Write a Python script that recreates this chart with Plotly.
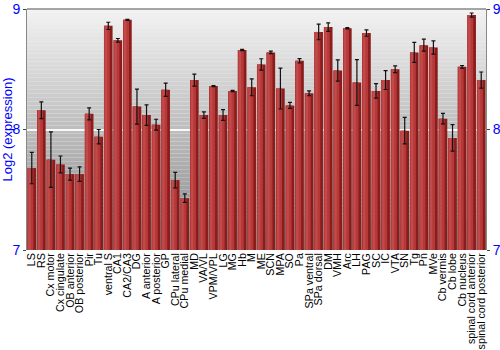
import plotly.graph_objects as go

regions = ["LS", "RS", "Cx motor", "Cx cingulate", "OB anterior", "OB posterior", "Pir", "Tu",
           "ventral S", "CA1", "CA2/CA3", "DG", "A anterior", "A posterior", "GP",
           "CPu lateral", "CPu medial", "MD", "VA/VL", "VPM/VPL", "LG", "MG", "Hb", "M", "ME",
           "SCN", "MPA", "SO", "Pa", "SPa ventral", "SPa dorsal", "DM",
           "VMH", "Arc", "LH", "PAG", "SC", "IC", "VTA", "SN", "Tg", "Pn", "MVe",
           "Cb vermis", "Cb lobe", "Cb nucleus", "spinal cord anterior", "spinal cord posterior"]

expression = [7.68, 8.16, 7.75, 7.71, 7.63, 7.63, 8.13, 7.94, 8.86, 8.74, 8.91, 8.19, 8.12, 8.04, 8.33,
              7.58, 7.43, 8.41, 8.12, 8.36, 8.12, 8.32, 8.66, 8.35, 8.54, 8.64, 8.34, 8.20, 8.57,
              8.30, 8.81, 8.85,
              8.49, 8.84, 8.39, 8.80, 8.32, 8.41, 8.50, 7.99, 8.64, 8.70, 8.68, 8.09, 7.93, 8.52,
              8.95, 8.41]

error = [0.13, 0.07, 0.23, 0.07, 0.05, 0.06, 0.05, 0.06, 0.03, 0.015, 0.005, 0.145, 0.085, 0.045, 0.055,
         0.065, 0.035, 0.05, 0.027, 0.005, 0.045, 0.005, 0.005, 0.07, 0.047, 0.011, 0.17, 0.025, 0.018,
         0.02, 0.065, 0.035,
         0.088, 0.005, 0.19, 0.026, 0.06, 0.078, 0.028, 0.11, 0.083, 0.05, 0.055, 0.044, 0.11, 0.011,
         0.017, 0.067]

y_ticks = [7, 8, 9]

BASE = 7
heights = [v - BASE for v in expression]

fig = go.Figure()
# dark base of each bar
fig.add_trace(go.Bar(x=regions, y=heights, base=BASE, width=0.9, offset=-0.45,
                     marker=dict(color="#8a1c1c", line=dict(width=0)), hoverinfo="skip"))
# lighter left part
fig.add_trace(go.Bar(x=regions, y=heights, base=BASE, width=0.62, offset=-0.45,
                     marker=dict(color="#b63838", line=dict(width=0)), hoverinfo="skip"))
# highlight strip
fig.add_trace(go.Bar(x=regions, y=heights, base=BASE, width=0.25, offset=-0.36,
                     marker=dict(color="#c24a4a", line=dict(width=0)), hoverinfo="skip"))
# error bars
fig.add_trace(go.Bar(x=regions, y=heights, base=BASE, width=0.9, offset=-0.45,
                     marker=dict(color="rgba(0,0,0,0)", line=dict(width=0)),
                     error_y=dict(type="data", array=error, color="#111111", thickness=1.2, width=2)))

# gradient background
shapes = []
n = 60
for i in range(n):
    t = i / (n - 1)
    c = int(round(0xf2 + (0x88 - 0xf2) * t))
    shapes.append(dict(type="rect", xref="paper", yref="paper", x0=0, x1=1,
                       y0=1 - (i + 1) / n, y1=1 - i / n, layer="below",
                       fillcolor=f"rgb({c},{c},{c})", line=dict(width=0)))
shapes.append(dict(type="line", xref="paper", yref="paper", x0=0, x1=1, y0=1, y1=1,
                   line=dict(color="#888888", width=1.5)))

fig.update_layout(
    width=500, height=350,
    margin=dict(l=27, r=14, t=9, b=100),
    paper_bgcolor="white", plot_bgcolor="rgba(0,0,0,0)",
    barmode="overlay", showlegend=False,
    shapes=shapes,
    font=dict(family="Liberation Sans, Arial, sans-serif"),
    xaxis=dict(type="category", tickangle=-90, tickfont=dict(size=10.7, color="black"),
               tickmode="array", tickvals=regions, ticktext=regions, automargin=False,
               showgrid=False, ticks="", showline=False, range=[-0.5, len(regions) - 0.5]),
    yaxis=dict(range=[7, 9], tickvals=y_ticks, showgrid=True, gridcolor="rgba(255,255,255,0.9)",
               gridwidth=1.5, zeroline=False, showline=True, linecolor="#888888", linewidth=1,
               ticks="outside", ticklen=3, tickcolor="#444444", automargin=False,
               tickfont=dict(size=14, color="blue"),
               title=dict(text="Log2 (expression)", font=dict(size=13, color="blue"), standoff=2)),
    yaxis2=dict(range=[7, 9], tickvals=y_ticks, overlaying="y", side="right", showgrid=False,
                zeroline=False, showline=True, linecolor="#888888", linewidth=1,
                ticks="outside", ticklen=3, tickcolor="#444444", automargin=False,
                tickfont=dict(size=14, color="blue")),
)
fig.add_trace(go.Scatter(x=[regions[0]], y=[8], yaxis="y2", mode="markers",
                         marker=dict(opacity=0), hoverinfo="skip", showlegend=False))

fig.write_html("out.html")
